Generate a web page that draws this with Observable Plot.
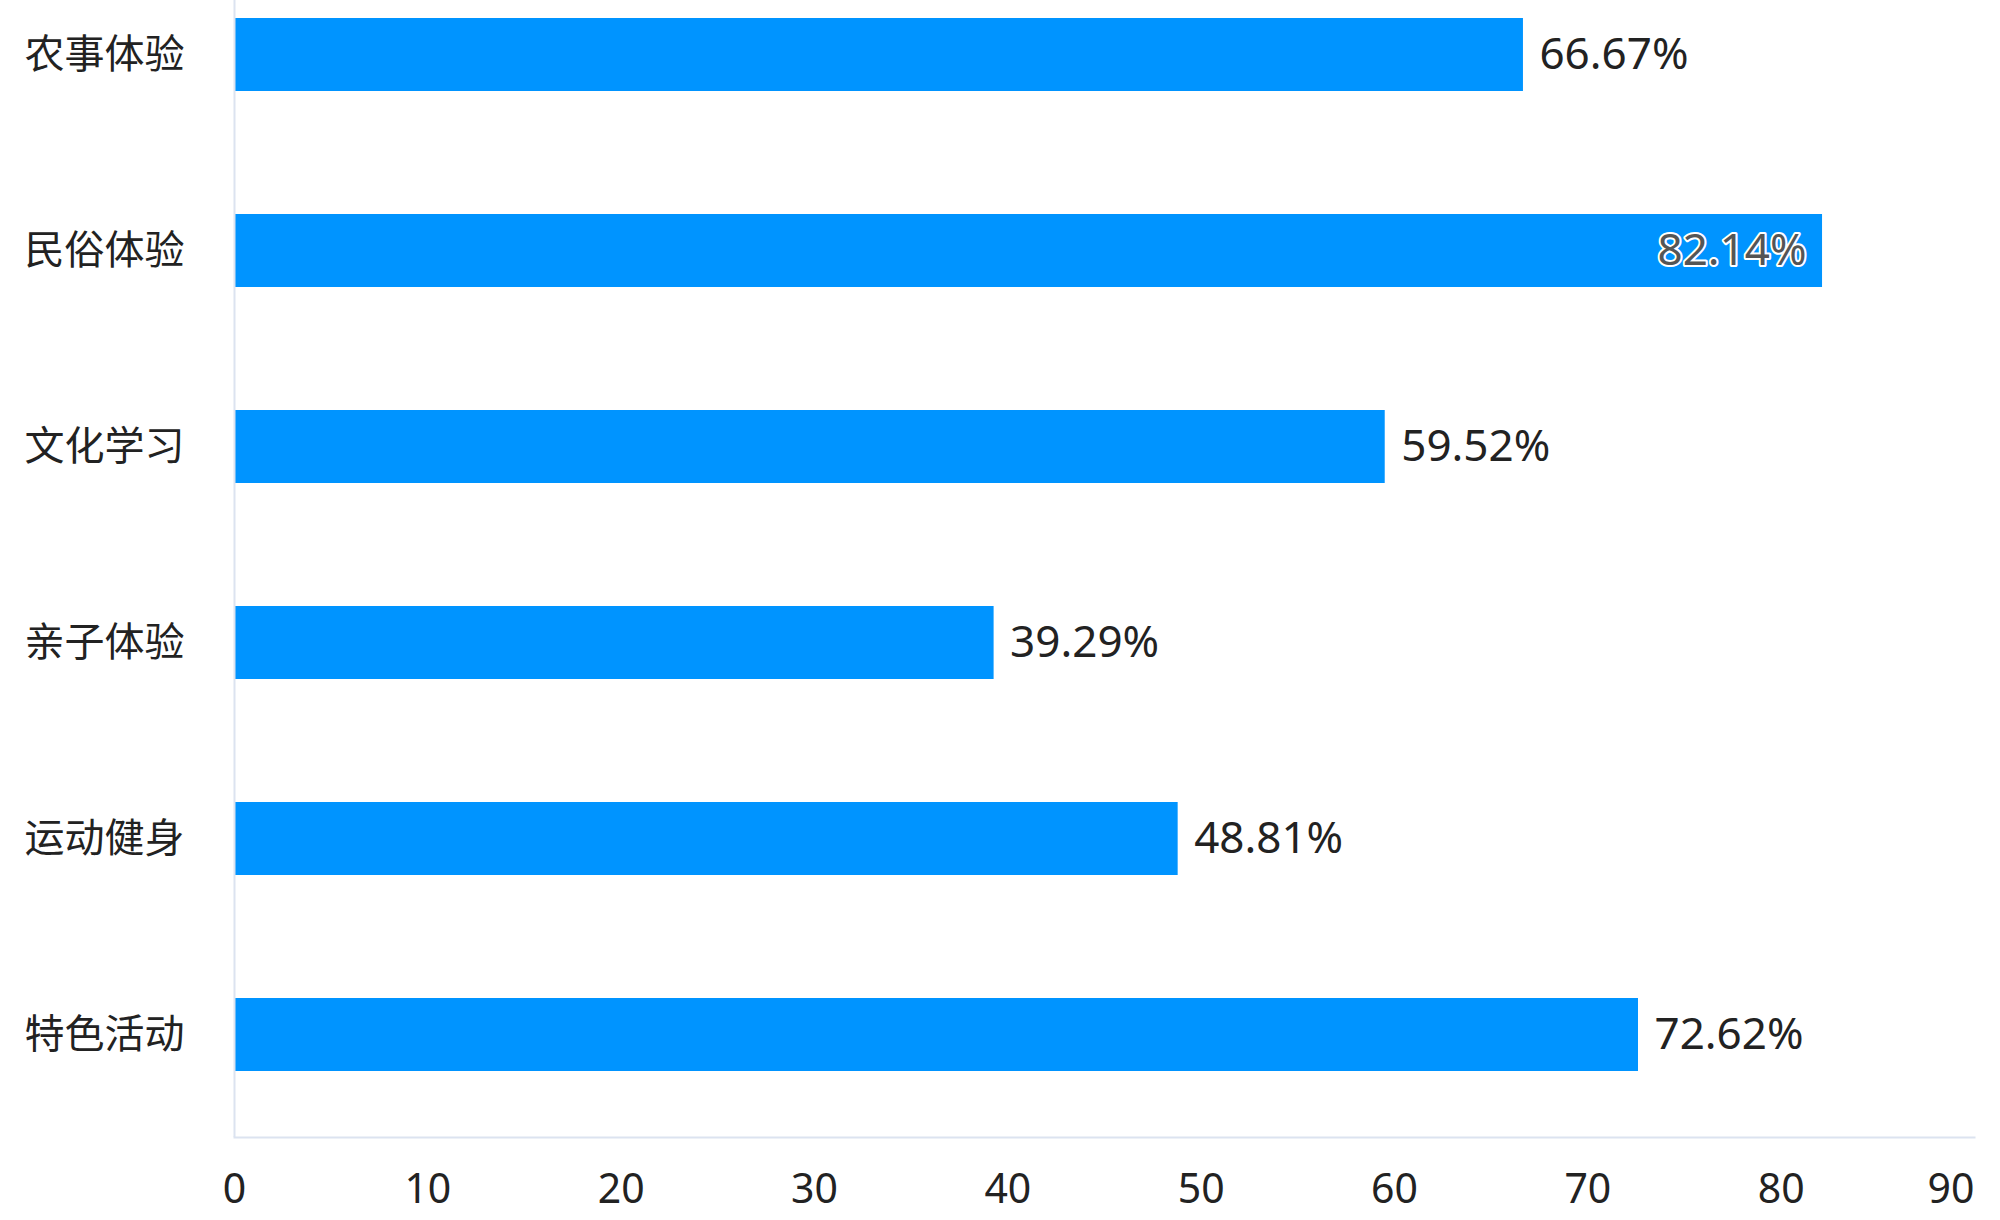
<!DOCTYPE html>
<html><head><meta charset="utf-8">
<script src="https://cdn.jsdelivr.net/npm/d3@7"></script>
<script src="https://cdn.jsdelivr.net/npm/@observablehq/plot@0.6"></script>
<style>html,body{margin:0;padding:0;background:#fff;} svg{display:block}</style>
</head><body><div id="chart"></div>
<script>
const categories = ["农事体验","民俗体验","文化学习","亲子体验","运动健身","特色活动"];
const values = [66.67, 82.14, 59.52, 39.29, 48.81, 72.62];
const xTicks = [0,10,20,30,40,50,60,70,80,90];

const data = categories.map((c,i)=>({category:c, value:values[i]}));
const fmt = v => v.toFixed(2) + "%";
const font = '"Noto Sans", "Noto Sans CJK SC", sans-serif';
const xMax = xTicks[xTicks.length-1];

const chart = Plot.plot({
  width:2000, height:1220,
  marginTop:0, marginLeft:234, marginRight:26, marginBottom:83,
  style:{fontFamily: font, background:"#fff", overflow:"visible"},
  x:{domain:[0, xMax], axis:null},
  y:{domain:categories, range:[-44,1134], paddingInner:0.627, paddingOuter:0.3135, axis:null, label:null},
  marks:[
    Plot.barX(data,{y:"category", x:"value", fill:"#0094ff"}),
    Plot.ruleX([0], {stroke:"#dce3f0", strokeWidth:2}),
    Plot.frame({anchor:"bottom", stroke:"#dce3f0", strokeWidth:2}),
    Plot.axisY({tickSize:0, tickPadding:50, fontSize:40, fill:"#222", label:null, fontFamily:'"Noto Sans CJK SC", sans-serif'}),
    Plot.text(xTicks.filter(t=>t<xMax), {x:d=>d, frameAnchor:"bottom", dy:65, fontSize:41, fill:"#222", text:d=>String(d)}),
    Plot.text(xTicks.filter(t=>t===xMax), {x:d=>d, frameAnchor:"bottom", dy:65, fontSize:41, fill:"#222", textAnchor:"end", text:d=>String(d)}),
    Plot.text(data.filter(d=>d.value<=75), {y:"category", x:"value", text:d=>fmt(d.value), textAnchor:"start", dx:16, fontSize:44, fill:"#222"}),
    Plot.text(data.filter(d=>d.value>75), {y:"category", x:"value", text:d=>fmt(d.value), textAnchor:"end", dx:-16, fontSize:44, fill:"#555", stroke:"#fff", strokeWidth:4})
  ]
});
document.getElementById("chart").appendChild(chart);
</script>
</body></html>
